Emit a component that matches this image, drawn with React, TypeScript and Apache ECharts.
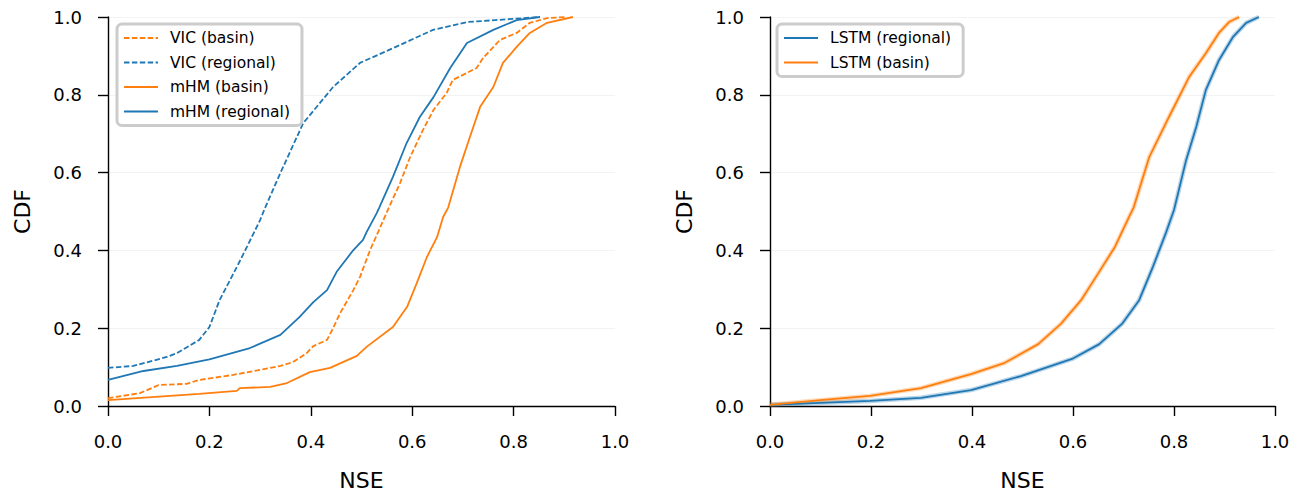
import React, { useEffect, useRef } from "react";
import * as echarts from "echarts";

// Left panel: empirical CDFs [NSE, CDF]
const vicBasin: number[][] = [
  [0, 0.02], [0.063, 0.033], [0.1, 0.054], [0.155, 0.057], [0.18, 0.067], [0.247, 0.08],
  [0.3, 0.093], [0.34, 0.103], [0.365, 0.113], [0.392, 0.136], [0.405, 0.154], [0.432, 0.17],
  [0.444, 0.2], [0.458, 0.239], [0.484, 0.298], [0.497, 0.332], [0.517, 0.401], [0.536, 0.457],
  [0.554, 0.51], [0.576, 0.573], [0.596, 0.64], [0.621, 0.709], [0.642, 0.761], [0.668, 0.805],
  [0.68, 0.838], [0.727, 0.869], [0.74, 0.895], [0.773, 0.941], [0.806, 0.959], [0.832, 0.985],
  [0.866, 0.997], [0.905, 1.0],
];
const vicRegional: number[][] = [
  [0, 0.098], [0.05, 0.103], [0.116, 0.126], [0.136, 0.136], [0.18, 0.17], [0.2, 0.203],
  [0.22, 0.272], [0.254, 0.357], [0.274, 0.409], [0.3, 0.478], [0.31, 0.51], [0.34, 0.599],
  [0.385, 0.727], [0.444, 0.82], [0.497, 0.882], [0.576, 0.928], [0.641, 0.967], [0.708, 0.987],
  [0.852, 1.0],
];
const mhmBasin: number[][] = [
  [0, 0.015], [0.18, 0.031], [0.254, 0.039], [0.26, 0.046], [0.32, 0.049], [0.353, 0.059],
  [0.398, 0.087], [0.438, 0.098], [0.491, 0.129], [0.51, 0.152], [0.562, 0.203], [0.59, 0.255],
  [0.609, 0.316], [0.629, 0.383], [0.649, 0.434], [0.661, 0.486], [0.671, 0.51], [0.694, 0.614],
  [0.714, 0.692], [0.734, 0.769], [0.76, 0.82], [0.779, 0.882], [0.806, 0.923], [0.832, 0.959],
  [0.866, 0.985], [0.917, 1.0],
];
const mhmRegional: number[][] = [
  [0, 0.067], [0.07, 0.09], [0.136, 0.103], [0.2, 0.12], [0.28, 0.149], [0.34, 0.183],
  [0.378, 0.229], [0.405, 0.267], [0.432, 0.298], [0.451, 0.345], [0.484, 0.401], [0.503, 0.427],
  [0.51, 0.447], [0.53, 0.496], [0.535, 0.51], [0.562, 0.589], [0.589, 0.676], [0.615, 0.743],
  [0.642, 0.794], [0.675, 0.869], [0.708, 0.933], [0.76, 0.967], [0.806, 0.992], [0.852, 1.0],
];

// Right panel
const lstmRegional: number[][] = [
  [0, 0.003], [0.198, 0.013], [0.299, 0.021], [0.398, 0.041], [0.497, 0.077], [0.598, 0.121],
  [0.652, 0.159], [0.697, 0.211], [0.731, 0.272], [0.758, 0.357], [0.784, 0.445], [0.8, 0.504],
  [0.824, 0.632], [0.844, 0.717], [0.863, 0.812], [0.889, 0.889], [0.917, 0.949], [0.943, 0.985],
  [0.968, 1.0],
];
const lstmBasin: number[][] = [
  [0, 0.003], [0.1, 0.015], [0.198, 0.026], [0.299, 0.046], [0.398, 0.082], [0.465, 0.111],
  [0.531, 0.159], [0.576, 0.211], [0.616, 0.272], [0.649, 0.339], [0.683, 0.409], [0.711, 0.486],
  [0.72, 0.51], [0.751, 0.64], [0.79, 0.743], [0.83, 0.846], [0.863, 0.907], [0.889, 0.959],
  [0.909, 0.987], [0.929, 1.0],
];

const BLUE = "#1f77b4";
const ORANGE = "#ff7f0e";
const FONT = "DejaVu Sans";

function xAxisDef(gridIndex: number) {
  return {
    type: "value",
    gridIndex,
    min: 0,
    max: 1,
    interval: 0.2,
    name: "NSE",
    nameLocation: "middle",
    nameGap: 63,
    nameTextStyle: { fontFamily: FONT, fontSize: 22, color: "#000" },
    axisLine: { show: true, onZero: false, lineStyle: { color: "#000", width: 1.4 } },
    axisTick: { show: true, inside: false, length: 10, lineStyle: { color: "#000", width: 1.4 } },
    axisLabel: {
      fontFamily: FONT, fontSize: 18, color: "#000", margin: 26,
      formatter: (v: number) => v.toFixed(1),
    },
    splitLine: { show: false },
  };
}

function yAxisDef(gridIndex: number) {
  return {
    type: "value",
    gridIndex,
    min: 0,
    max: 1,
    interval: 0.2,
    name: "CDF",
    nameLocation: "middle",
    nameGap: 75,
    nameTextStyle: { fontFamily: FONT, fontSize: 22, color: "#000" },
    axisLine: { show: true, onZero: false, lineStyle: { color: "#000", width: 1.4 } },
    axisTick: { show: true, inside: false, length: 10, lineStyle: { color: "#000", width: 1.4 } },
    axisLabel: {
      fontFamily: FONT, fontSize: 18, color: "#000", margin: 26,
      formatter: (v: number) => v.toFixed(1),
    },
    splitLine: { show: true, lineStyle: { color: "#f3f3f3", width: 1.2 } },
  };
}

function lineSeries(name: string, data: number[][], color: string, dashed: boolean, idx: number, extra: any = {}) {
  return {
    type: "line",
    name,
    data,
    xAxisIndex: idx,
    yAxisIndex: idx,
    showSymbol: false,
    symbol: "none",
    smooth: false,
    color,
    lineStyle: { color, width: 1.8, type: dashed ? [5.5, 2.4] : "solid", ...extra },
    emphasis: { disabled: true },
  };
}

export default function App() {
  const ref = useRef<HTMLDivElement>(null);
  useEffect(() => {
    if (!ref.current) return;
    const chart = echarts.init(ref.current, undefined, { renderer: "svg" });
    const legendBase = {
      orient: "vertical",
      backgroundColor: "#fff",
      borderColor: "#cccccc",
      borderWidth: 3,
      borderRadius: 5,
      padding: [6, 12, 6, 6],
      itemWidth: 34,
      itemHeight: 12,
      itemGap: 8.5,
      itemStyle: { opacity: 0 },
      textStyle: { fontFamily: FONT, fontSize: 15.5, color: "#000", padding: [0, 0, 0, 7] },
    };
    chart.setOption({
      animation: false,
      backgroundColor: "#fff",
      grid: [
        { left: 108, top: 17, width: 507, height: 389, outerBoundsMode: "none", containLabel: false },
        { left: 770, top: 17, width: 505, height: 389, outerBoundsMode: "none", containLabel: false },
      ],
      xAxis: [xAxisDef(0), xAxisDef(1)],
      yAxis: [yAxisDef(0), yAxisDef(1)],
      legend: [
        {
          ...legendBase,
          left: 117,
          top: 24,
          data: ["VIC (basin)", "VIC (regional)", "mHM (basin)", "mHM (regional)"],
        },
        {
          ...legendBase,
          left: 777,
          top: 24,
          data: ["LSTM (regional)", "LSTM (basin)"],
        },
      ],
      series: [
        lineSeries("VIC (basin)", vicBasin, ORANGE, true, 0),
        lineSeries("VIC (regional)", vicRegional, BLUE, true, 0),
        lineSeries("mHM (basin)", mhmBasin, ORANGE, false, 0),
        lineSeries("mHM (regional)", mhmRegional, BLUE, false, 0),
        lineSeries("LSTM regional ensemble", lstmRegional, BLUE, false, 1, { width: 4.5, opacity: 0.3 }),
        lineSeries("LSTM basin ensemble", lstmBasin, ORANGE, false, 1, { width: 4.5, opacity: 0.3 }),
        lineSeries("LSTM (regional)", lstmRegional, BLUE, false, 1),
        lineSeries("LSTM (basin)", lstmBasin, ORANGE, false, 1),
      ],
    });
    return () => chart.dispose();
  }, []);
  return (
    <div
      ref={ref}
      style={{ position: "absolute", left: 0, top: 0, width: 1301, height: 491 }}
    />
  );
}
